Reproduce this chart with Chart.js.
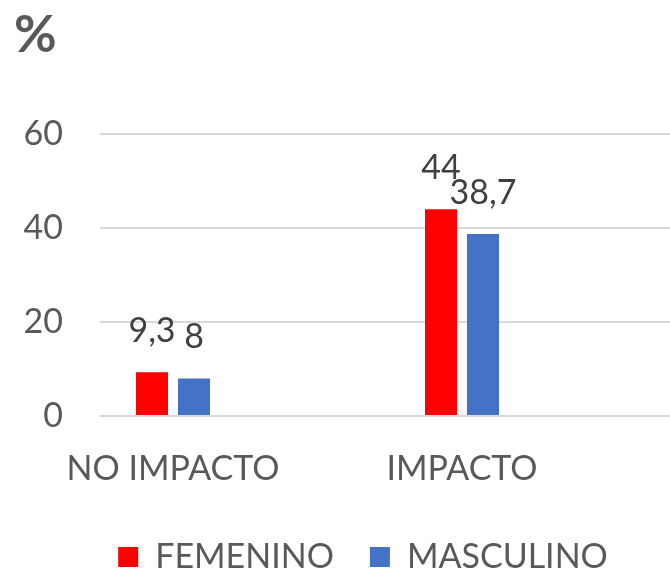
<!DOCTYPE html>
<html>
<head>
<meta charset="utf-8">
<script src="https://cdn.jsdelivr.net/npm/chart.js@4/dist/chart.umd.min.js"></script>
<style>
    html, body { margin: 0; padding: 0; background: #ffffff; }
</style>
</head>
<body>
<canvas id="canvas" width="670" height="574"></canvas>
<script>
var categorias = ["NO IMPACTO", "IMPACTO"];
var femenino = [9.3, 44];
var masculino = [8, 38.7];
var ticksY = [0, 20, 40, 60];

function inicializarChart() {
    var gris = '#595959';
    var fuente = 'Lato';
    var canvas = document.getElementById("canvas");

    // ancho de la etiqueta mas ancha del eje Y, para alinear a la derecha en x=63
    var medir = canvas.getContext('2d');
    medir.font = '34px ' + fuente;
    var anchoY = Math.max.apply(null, ticksY.map(function (v) { return medir.measureText(String(v)).width; }));

    // etiquetas de valor encima de cada barra (coma decimal)
    var etiquetas = {
        id: 'etiquetas',
        afterDatasetsDraw: function (chart) {
            var ctx = chart.ctx;
            ctx.save();
            ctx.font = '34px ' + fuente;
            ctx.fillStyle = '#404040';
            ctx.textAlign = 'center';
            ctx.textBaseline = 'alphabetic';
            chart.data.datasets.forEach(function (ds, i) {
                chart.getDatasetMeta(i).data.forEach(function (bar, j) {
                    ctx.fillText(String(ds.data[j].y).replace('.', ','), bar.x, bar.y - 30);
                });
            });
            ctx.restore();
        }
    };

    // el "%" arriba a la izquierda
    var unidad = {
        id: 'unidad',
        afterDraw: function (chart) {
            var ctx = chart.ctx;
            ctx.save();
            ctx.font = 'bold 52px ' + fuente;
            ctx.fillStyle = gris;
            ctx.textAlign = 'left';
            ctx.textBaseline = 'alphabetic';
            ctx.fillText('%', 14, 52);
            ctx.restore();
        }
    };

    var config = {
        type: 'bar',
        data: {
            datasets: [{
                label: "FEMENINO",
                backgroundColor: '#ff0000',
                data: femenino.map(function (v, i) { return { x: i, y: v }; })
            }, {
                label: "MASCULINO",
                backgroundColor: '#4472c4',
                data: masculino.map(function (v, i) { return { x: i, y: v }; })
            }]
        },
        options: {
            responsive: false,
            animation: false,
            categoryPercentage: 0.2907,
            barPercentage: 0.762,
            // padding izquierdo para que la leyenda quede centrada como en el original
            layout: { padding: { top: 134, left: 56, right: 0, bottom: -10 } },
            plugins: {
                tooltip: { enabled: false },
                legend: {
                    position: 'bottom',
                    labels: {
                        boxWidth: 20,
                        boxHeight: 20,
                        padding: 36,
                        color: gris,
                        font: { family: fuente, size: 34 }
                    }
                }
            },
            scales: {
                x: {
                    type: 'linear',
                    offset: false,
                    min: -0.2526,
                    max: 1.7197,
                    afterBuildTicks: function (scale) {
                        scale.ticks = categorias.map(function (c, i) { return { value: i }; });
                    },
                    afterFit: function (scale) { scale.height = 88; },
                    grid: { display: false, offset: false },
                    border: { display: false },
                    ticks: {
                        padding: 25,
                        maxRotation: 0,
                        autoSkip: false,
                        color: gris,
                        font: { family: fuente, size: 34 },
                        callback: function (v) { return categorias[v]; }
                    }
                },
                y: {
                    min: ticksY[0],
                    max: ticksY[ticksY.length - 1],
                    afterBuildTicks: function (scale) {
                        scale.ticks = ticksY.map(function (v) { return { value: v }; });
                    },
                    afterFit: function (scale) { scale.width = 44; },
                    grid: { color: '#d9d9d9', lineWidth: 2, drawTicks: false },
                    border: { display: false },
                    ticks: {
                        mirror: true,
                        crossAlign: 'far',
                        padding: -37 - anchoY,
                        color: gris,
                        font: { family: fuente, size: 34 }
                    }
                }
            }
        },
        plugins: [etiquetas, unidad]
    };

    window.myBar = new Chart(canvas, config);
}

inicializarChart();
</script>
</body>
</html>
